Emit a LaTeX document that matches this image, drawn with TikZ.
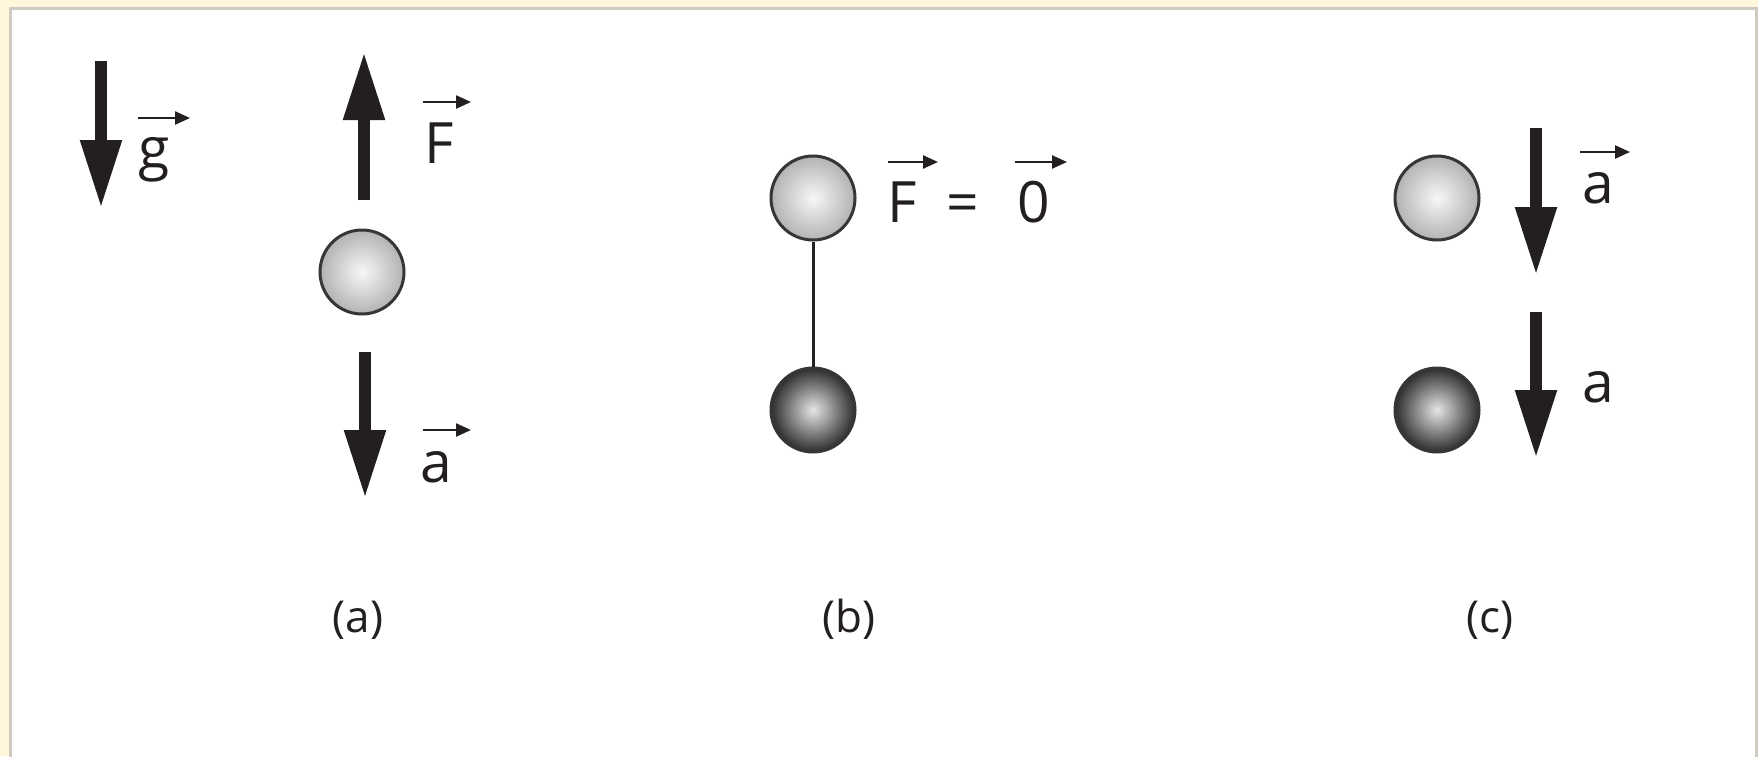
\documentclass[tikz,border=0pt]{standalone}
\usepackage{fontspec}
\setmainfont{Open Sans}
\usetikzlibrary{arrows.meta,calc}
\definecolor{cream}{HTML}{FFF6DC}
\definecolor{ink}{HTML}{231F20}
\definecolor{rim}{HTML}{CFCBC2}
\begin{document}
\begin{tikzpicture}[x=1pt,y=-1pt,
  bigarrow/.style={ink, line width=11.5pt, -{Triangle[length=68pt,width=39pt]}},
  vecarrow/.style={ink, line width=2.4pt, -{Triangle[length=15pt,width=13pt]}},
  lbl/.style={inner sep=0pt, anchor=base west, text=ink, font=\fontsize{57}{60}\selectfont},
  partlbl/.style={inner sep=0pt, anchor=base, text=ink, font=\fontsize{44}{48}\selectfont},
  ballbase/.style={circle, draw=ink!90, line width=3pt, minimum size=84pt, inner sep=0pt},
  lightball/.style={ballbase, inner color=black!3, outer color=black!30},
  darkball/.style={ballbase, inner color=black!10, outer color=black!82},
  rod/.style={ink, line width=3pt}]
\useasboundingbox (0,0) rectangle (1758,756);
\fill[cream] (0,0) rectangle (1758,756);
\draw[rim, line width=3pt, fill=white] (10.5,8) rectangle (1756.5,770);

% g
\coordinate (g1) at (101,61); \coordinate (g2) at (101,208);
\draw[bigarrow] (g1) -- (g2);
\node[lbl] (glbl) at (138,168) {g};
\draw[vecarrow] ($(glbl.base west)+(0,-50)$) -- ++(52,0);

% (a)
\node[lightball] (ballA) at (362,272) {};
\coordinate (fa1) at (364,200); \coordinate (fa2) at (364,52);
\draw[bigarrow] (fa1) -- (fa2);
\coordinate (aa1) at (365,352); \coordinate (aa2) at (365,498);
\draw[bigarrow] (aa1) -- (aa2);
\node[lbl] (Fa) at (424,163) {F};
\draw[vecarrow] ($(Fa.base west)+(-1,-61)$) -- ++(48,0);
\node[lbl] (aa) at (420,482) {a};
\draw[vecarrow] ($(aa.base west)+(3,-52)$) -- ++(48,0);
\node[partlbl] (capa) at (358,632) {(a)};

% (b)
\node[lightball] (ballB1) at (813,198) {};
\node[darkball] (ballB2) at (813,410) {};
\draw[rod] (ballB1) -- (ballB2);
\node[lbl] (Fb) at (887,222) {F};
\draw[vecarrow] ($(Fb.base west)+(1,-60)$) -- ++(50,0);
\node[lbl] (eqb) at (946,222) {=};
\node[lbl] (zb) at (1017,222) {0};
\draw[vecarrow] ($(zb.base west)+(-2,-60)$) -- ++(52,0);
\node[partlbl] (capb) at (849,632) {(b)};

% (c)
\node[lightball] (ballC1) at (1437,198) {};
\node[darkball] (ballC2) at (1437,410) {};
\coordinate (c11) at (1536,128); \coordinate (c12) at (1536,275);
\draw[bigarrow] (c11) -- (c12);
\coordinate (c21) at (1536,312); \coordinate (c22) at (1536,458);
\draw[bigarrow] (c21) -- (c22);
\node[lbl] (ac1) at (1582,203) {a};
\draw[vecarrow] ($(ac1.base west)+(-2,-51)$) -- ++(50,0);
\node[lbl] (ac2) at (1582,402) {a};
\node[partlbl] (capc) at (1490,632) {(c)};
\end{tikzpicture}
\end{document}
